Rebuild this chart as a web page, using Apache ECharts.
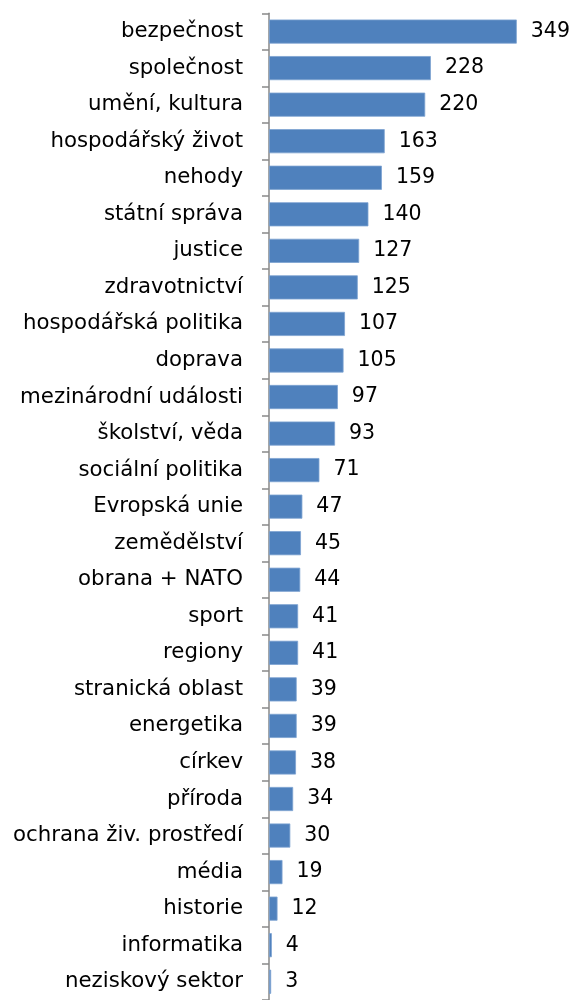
<!DOCTYPE html>
<html><head><meta charset="utf-8">
<script src="https://cdn.jsdelivr.net/npm/echarts@6/dist/echarts.min.js"></script>
<style>html,body{margin:0;padding:0;background:#fff}#c{width:572px;height:1000px}</style>
</head><body><div id="c"></div>
<script>
const categories = ["bezpečnost","společnost","umění, kultura","hospodářský život","nehody","státní správa","justice","zdravotnictví","hospodářská politika","doprava","mezinárodní události","školství, věda","sociální politika","Evropská unie","zemědělství","obrana + NATO","sport","regiony","stranická oblast","energetika","církev","příroda","ochrana živ. prostředí","média","historie","informatika","neziskový sektor"];
const values = [349,228,220,163,159,140,127,125,107,105,97,93,71,47,45,44,41,41,39,39,38,34,30,19,12,4,3];

const chart = echarts.init(document.getElementById('c'), null, {renderer:'canvas'});
chart.setOption({
  animation:false,
  grid:{left:269, right:19, top:13.3, bottom:-6.8, containLabel:false},
  xAxis:{type:'value', min:0, max:400, show:false},
  yAxis:{type:'category', data:categories, inverse:true,
    axisLine:{show:true, lineStyle:{color:'#898989', width:1.5}},
    axisTick:{show:true, length:7, lineStyle:{color:'#898989', width:1.5}},
    axisLabel:{color:'#000', fontFamily:'DejaVu Sans', fontSize:21.3, margin:26}
  },
  series:[{type:'bar', data:values, barWidth:'66%',
    itemStyle:{color:'#4F81BD', borderColor:'#7EA3D2', borderWidth:0.8},
    label:{show:true, position:'right', distance:14, color:'#000', fontFamily:'DejaVu Sans', fontSize:20.5}
  }]
});
</script></body></html>
